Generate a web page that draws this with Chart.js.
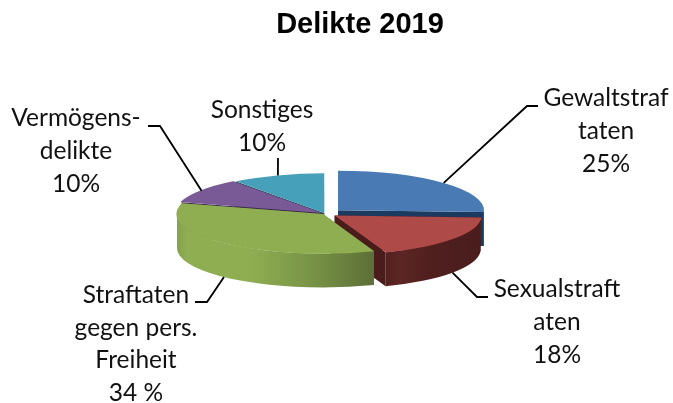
<!DOCTYPE html>
<html><head><meta charset="utf-8">
<style>html,body{margin:0;padding:0;background:#fff}#w{width:673px;height:403px;position:relative}</style>
<script src="https://cdn.jsdelivr.net/npm/chart.js@4"></script>
</head><body><div id="w"><canvas id="c"></canvas></div>
<script>
const categories = ["Gewaltstraftaten","Sexualstraftaten","Straftaten gegen pers. Freiheit","Vermögensdelikte","Sonstiges"];
const values = [25,18,34,10,10];
const labelLines = [
  ["Gewaltstraf","taten","25%"],
  ["Sexualstraft","aten","18%"],
  ["Straftaten","gegen pers.","Freiheit","34 %"],
  ["Vermögens-","delikte","10%"],
  ["Sonstiges","10%"]
];
const topColors = ["#4a7ab4","#ae4a47","#8fae52","#7a5a96","#46a0b9"];
const cutColors = ["#1b3a5f","#4a1c1b","#5f7338","#3a2a4f","#1f5664"];

/* layout / style constants */
const TILT = 0.27, DEPTH = 34, CENTER_X = 325, CENTER_Y = 213.5, RADIUS = 146;
const EXPLODE = [72,48,12,14,8];
const LABEL_POS = [
  {x:606,y:98,gap:33, elbow:[527,106], end:[538,106]},
  {x:557,y:289,gap:33, elbow:[477,297], end:[488,297]},
  {x:136,y:295,gap:32.7, elbow:[207,302], end:[195,302]},
  {x:76,y:118,gap:33, elbow:[160,126], end:[148,126]},
  {x:262,y:110,gap:33, elbow:null, end:[278,158]}
];
const wallFill = (ctx,i) => {
  if (i === 2) {
    const g = ctx.createLinearGradient(177,0,370,0);
    g.addColorStop(0,"#84a14c"); g.addColorStop(0.05,"#8fae52"); g.addColorStop(0.38,"#8fae52");
    g.addColorStop(0.7,"#789346"); g.addColorStop(1,"#5e7138");
    return g;
  }
  if (i === 1) {
    const g = ctx.createLinearGradient(382,0,480,0);
    g.addColorStop(0,"#4f1f1e"); g.addColorStop(0.2,"#5c2624"); g.addColorStop(0.5,"#4f1f1e"); g.addColorStop(1,"#4a1d1c");
    return g;
  }
  return cutColors[i];
};
const geo = (arc) => {
  const p = arc.getProps(["startAngle","endAngle","outerRadius"], true);
  const off = (arc.options.offset||0)/4, mid = (p.startAngle+p.endAngle)/2;
  return {cx:CENTER_X+Math.cos(mid)*off, cy:CENTER_Y+Math.sin(mid)*off*TILT, r:p.outerRadius, a0:p.startAngle, a1:p.endAngle, mid};
};
const pie3d = {
  id:"pie3d",
  beforeDatasetsDraw(chart){
    const ctx = chart.ctx, arcs = chart.getDatasetMeta(0).data;
    [0,4,3,1,2].forEach(i=>{
      const g = geo(arcs[i]), ry = g.r*TILT;
      const P = a=>[g.cx+Math.cos(a)*g.r, g.cy+Math.sin(a)*ry];
      ctx.fillStyle = cutColors[i];
      [g.a0,g.a1].forEach(a=>{
        const q = P(a);
        ctx.beginPath();
        ctx.moveTo(g.cx,g.cy); ctx.lineTo(q[0],q[1]);
        ctx.lineTo(q[0],q[1]+DEPTH); ctx.lineTo(g.cx,g.cy+DEPTH); ctx.closePath(); ctx.fill();
      });
      const TAU = Math.PI*2;
      for (let k=-1;k<=1;k++){
        const s = Math.max(g.a0, k*TAU), e = Math.min(g.a1, k*TAU+Math.PI);
        if (e<=s) continue;
        ctx.beginPath();
        ctx.ellipse(g.cx,g.cy,g.r,ry,0,s,e);
        ctx.ellipse(g.cx,g.cy+DEPTH,g.r,ry,0,e,s,true);
        ctx.closePath();
        ctx.fillStyle = wallFill(ctx,i);
        ctx.fill();
      }
    });
    ctx.save();
    const a = arcs[0];
    ctx.translate(CENTER_X,CENTER_Y); ctx.scale(1,TILT); ctx.translate(-a.x,-a.y);
  },
  afterDatasetsDraw(chart){
    const ctx = chart.ctx, arcs = chart.getDatasetMeta(0).data;
    ctx.restore();
    ctx.strokeStyle = "#000"; ctx.lineWidth = 1.8;
    ctx.fillStyle = "#111";
    ctx.font = "24.5px Lato";
    ctx.textAlign = "center"; ctx.textBaseline = "middle";
    arcs.forEach((arc,i)=>{
      const g = geo(arc), L = LABEL_POS[i];
      const front = Math.sin(g.mid) > 0 ? DEPTH : 0;
      ctx.beginPath();
      ctx.moveTo(g.cx+Math.cos(g.mid)*g.r, g.cy+Math.sin(g.mid)*g.r*TILT+front);
      if (L.elbow) ctx.lineTo(L.elbow[0],L.elbow[1]);
      ctx.lineTo(L.end[0],L.end[1]);
      ctx.stroke();
      labelLines[i].forEach((t,n)=>ctx.fillText(t,L.x,L.y+n*L.gap));
    });
  }
};
new Chart(document.getElementById("c"),{
  type:"pie",
  data:{labels:categories,datasets:[{data:values,backgroundColor:topColors,borderWidth:0,offset:EXPLODE,hoverOffset:0,clip:false}]},
  options:{
    responsive:true,maintainAspectRatio:false,animation:false,radius:RADIUS,
    layout:{padding:{left:47,right:0,top:0,bottom:0}},
    plugins:{
      legend:{display:false},tooltip:{enabled:false},
      title:{display:true,text:"Delikte 2019",color:"#000",font:{family:"'Liberation Sans'",size:29,weight:"bold"},padding:{top:8,bottom:10}}
    }
  },
  plugins:[pie3d]
});
</script></body></html>
